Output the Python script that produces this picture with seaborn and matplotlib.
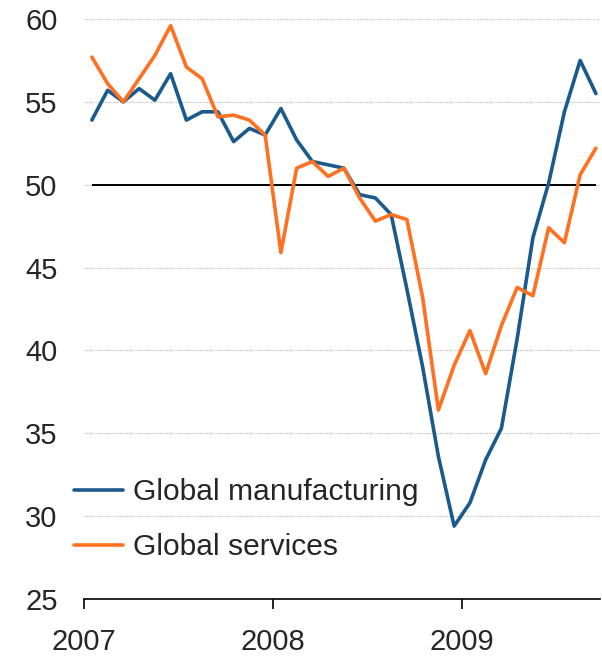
import numpy as np
import pandas as pd
import matplotlib
matplotlib.use("Agg")
import matplotlib.pyplot as plt
import seaborn as sns

# monthly index, Jan 2007 .. Sep 2009 (plotted mid-month)
months = np.arange(33) + 0.5

manufacturing = [53.9, 55.7, 55.0, 55.8, 55.1, 56.7, 53.9, 54.4, 54.4, 52.6, 53.4, 53.0,
                 54.6, 52.7, 51.4, 51.2, 51.0, 49.4, 49.2, 48.2, 43.7, 39.0, 33.6, 29.4,
                 30.8, 33.4, 35.3, 40.7, 46.8, 50.1, 54.4, 57.5, 55.5]
services = [57.7, 56.1, 55.0, 56.4, 57.8, 59.6, 57.1, 56.4, 54.1, 54.2, 53.9, 53.0,
            45.9, 51.0, 51.4, 50.5, 51.0, 49.2, 47.8, 48.2, 47.9, 43.2, 36.4, 39.1,
            41.2, 38.6, 41.5, 43.8, 43.3, 47.4, 46.5, 50.6, 52.2]

years = ["2007", "2008", "2009"]
year_ticks = [0, 12, 24]
y_ticks = [25, 30, 35, 40, 45, 50, 55, 60]

names = ["Global manufacturing", "Global services"]
colors = ["#1B5A8C", "#FF7020"]

df = pd.DataFrame({
    "month": np.concatenate([months, months]),
    "value": manufacturing + services,
    "series": [names[0]] * len(months) + [names[1]] * len(months),
})

sns.set_style("white")
plt.rcParams["font.family"] = ["Liberation Sans", "DejaVu Sans"]

fig = plt.figure(figsize=(6.02, 6.63), dpi=100)
ax = fig.add_axes([84 / 602, 1 - 599 / 663, 516 / 602, 580 / 663])

# dotted grid behind everything
for v in y_ticks[1:]:
    ax.axhline(v, color="#bbbbbb", lw=0.8, ls=(0, (1, 1)), zorder=0)

# reference line at 50 spanning the data
ax.hlines(50, months[0], months[-1], color="black", lw=1.4, zorder=1)

sns.lineplot(data=df, x="month", y="value", hue="series", palette=colors,
             linewidth=2.6, ax=ax, zorder=3)

ax.set_xlim(0, 32.76)
ax.set_ylim(25, 60)
ax.set_xticks(year_ticks)
ax.set_xticklabels(years)
ax.set_yticks(y_ticks)
ax.set_xlabel("")
ax.set_ylabel("")

for s in ["top", "right", "left"]:
    ax.spines[s].set_visible(False)
ax.spines["bottom"].set_color("black")
ax.spines["bottom"].set_linewidth(1.2)

ax.tick_params(axis="x", direction="out", length=7, width=1.2, color="black",
               labelsize=21, pad=14, bottom=True)
ax.tick_params(axis="y", length=0, labelsize=21, pad=19, left=False)

ax.legend(loc="upper left", bbox_to_anchor=(74 / 602, 1 - 478 / 663),
          bbox_transform=fig.transFigure, frameon=False, fontsize=21.6,
          handlelength=1.62, handletextpad=0.35, labelspacing=0.9,
          borderpad=0, borderaxespad=0)

fig.savefig("out.png", dpi=100)
